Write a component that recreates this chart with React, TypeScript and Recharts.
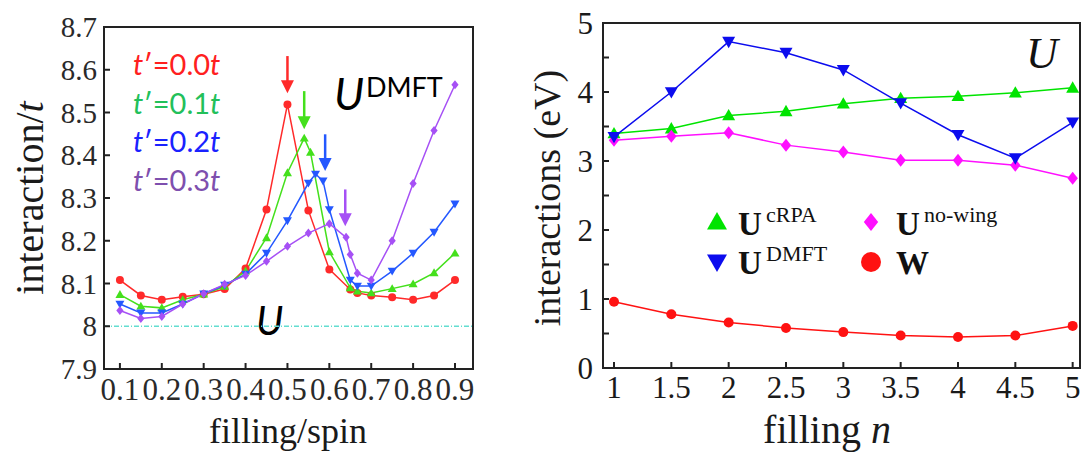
import React from 'react';
import { LineChart, Line, XAxis, YAxis, ReferenceLine, Legend } from 'recharts';

const serif = '"Liberation Serif", "Times New Roman", serif';
const sans = 'Lato, "Open Sans", sans-serif';

// left panel: U^DMFT / t against filling per spin, one curve per t'
const fillT00 = [0.1, 0.15, 0.2, 0.25, 0.3, 0.35, 0.4, 0.45, 0.5, 0.55, 0.6, 0.65, 0.667, 0.7, 0.75, 0.8, 0.85, 0.9];
const uT00 = [8.108, 8.072, 8.062, 8.069, 8.075, 8.087, 8.135, 8.273, 8.519, 8.271, 8.133, 8.086, 8.078, 8.072, 8.068, 8.062, 8.072, 8.108];

const fillT01 = [0.1, 0.15, 0.2, 0.25, 0.3, 0.35, 0.4, 0.45, 0.5, 0.54, 0.555, 0.6, 0.65, 0.667, 0.7, 0.75, 0.8, 0.85, 0.9];
const uT01 = [8.074, 8.047, 8.043, 8.062, 8.075, 8.093, 8.129, 8.207, 8.359, 8.44, 8.407, 8.174, 8.09, 8.082, 8.078, 8.088, 8.099, 8.125, 8.171];

const fillT02 = [0.1, 0.15, 0.2, 0.25, 0.3, 0.35, 0.4, 0.45, 0.5, 0.55, 0.567, 0.585, 0.6, 0.65, 0.667, 0.7, 0.75, 0.8, 0.85, 0.9];
const uT02 = [8.052, 8.031, 8.031, 8.052, 8.076, 8.096, 8.122, 8.171, 8.247, 8.335, 8.356, 8.34, 8.273, 8.108, 8.094, 8.094, 8.129, 8.171, 8.22, 8.286];

const fillT03 = [0.1, 0.15, 0.2, 0.25, 0.3, 0.35, 0.4, 0.45, 0.5, 0.55, 0.6, 0.64, 0.65, 0.667, 0.7, 0.75, 0.8, 0.85, 0.9];
const uT03 = [8.037, 8.018, 8.023, 8.052, 8.076, 8.098, 8.119, 8.152, 8.187, 8.218, 8.24, 8.208, 8.168, 8.124, 8.108, 8.2, 8.334, 8.458, 8.565];

// peak arrows: x, top of shaft, tip
const arrowFill = [0.5, 0.54, 0.59, 0.638];
const arrowTop = [8.632, 8.55, 8.449, 8.32];
const arrowTip = [8.545, 8.461, 8.363, 8.234];

const bareU = 8;
const spinDomain = [0.062, 0.943];
const interDomain = [7.9, 8.7];
const spinTicks = [0.1, 0.2, 0.3, 0.4, 0.5, 0.6, 0.7, 0.8, 0.9];
const interTicks = [7.9, 8, 8.1, 8.2, 8.3, 8.4, 8.5, 8.6, 8.7];

// right panel: interactions (eV) against filling n
const fillingN = [1, 1.5, 2, 2.5, 3, 3.5, 4, 4.5, 5];
const uCrpa = [3.4, 3.47, 3.66, 3.72, 3.83, 3.91, 3.94, 3.99, 4.06];
const uDmft = [3.35, 4.0, 4.73, 4.57, 4.32, 3.84, 3.38, 3.04, 3.56];
const uNoWing = [3.3, 3.36, 3.41, 3.23, 3.13, 3.01, 3.01, 2.94, 2.75];
const wScreened = [0.96, 0.78, 0.66, 0.58, 0.52, 0.47, 0.45, 0.47, 0.61];
const nDomain = [0.904, 5.064];
const evDomain = [0, 5];
const evTicks = [0, 0.5, 1, 1.5, 2, 2.5, 3, 3.5, 4, 4.5, 5];

const toPoints = (xs: number[], ys: number[]) => xs.map((x, i) => ({ x, y: ys[i] }));

const rightData = fillingN.map((n, i) => ({
  n,
  crpa: uCrpa[i],
  dmft: uDmft[i],
  noWing: uNoWing[i],
  w: wScreened[i],
}));

type Shape = 'circle' | 'up' | 'down' | 'diamond';

const Marker = ({ shape, cx, cy, s, color }: { shape: Shape; cx: number; cy: number; s: number; color: string }) => {
  if (shape === 'circle') return <circle cx={cx} cy={cy} r={s} fill={color} />;
  if (shape === 'up')
    return <polygon points={`${cx},${cy - s} ${cx - s},${cy + s * 0.75} ${cx + s},${cy + s * 0.75}`} fill={color} />;
  if (shape === 'down')
    return <polygon points={`${cx},${cy + s} ${cx - s},${cy - s * 0.75} ${cx + s},${cy - s * 0.75}`} fill={color} />;
  return <polygon points={`${cx},${cy - s} ${cx + s * 0.8},${cy} ${cx},${cy + s} ${cx - s * 0.8},${cy}`} fill={color} />;
};

const dotOf = (shape: Shape, color: string, s: number) => (props: any) => {
  const { cx, cy, index } = props;
  if (cx == null || cy == null) return <g key={index} />;
  return (
    <g key={index}>
      <Marker shape={shape} cx={cx} cy={cy} s={s} color={color} />
    </g>
  );
};

const Arrow = (props: any) => {
  const { x1, y1, x2, y2, stroke } = props;
  if (x1 == null) return null;
  const head = 13;
  return (
    <g>
      <line x1={x1} y1={y1} x2={x2} y2={y2 - head + 2} stroke={stroke} strokeWidth={2.5} />
      <polygon points={`${x2},${y2} ${x2 - 6.5},${y2 - head} ${x2 + 6.5},${y2 - head}`} fill={stroke} />
    </g>
  );
};

const SpinTick = (props: any) => (
  <text x={props.x} y={props.y} textAnchor="middle" fontFamily={serif} fontSize={31} fill="#2a2a2a">
    {props.payload.value.toFixed(1)}
  </text>
);

const InterTick = (props: any) => {
  const v = props.payload.value;
  return (
    <text x={props.x} y={props.y} dy="0.35em" textAnchor="end" fontFamily={serif} fontSize={29} fill="#2a2a2a">
      {Math.abs(v - 8) < 1e-9 ? '8' : v.toFixed(1)}
    </text>
  );
};

const NTick = (props: any) => (
  <text x={props.x} y={props.y} textAnchor="middle" fontFamily={serif} fontSize={31} fill="#1a1a1a">
    {String(props.payload.value)}
  </text>
);

const EvTick = (props: any) => {
  const v = props.payload.value;
  if (v % 1 !== 0) return <g />;
  return (
    <text x={props.x} y={props.y} dy="0.35em" textAnchor="end" fontFamily={serif} fontSize={31} fill="#1a1a1a">
      {String(v)}
    </text>
  );
};

// box frame edges and inward ticks
const edge = { stroke: '#222', strokeWidth: 2, axisLine: true, tickLine: true, tickSize: -6, allowDataOverflow: true };

const leftSeries = [
  { name: "t'=0.0t", fill: fillT00, u: uT00, color: '#ff2a2a', text: '#ff2020', shape: 'circle' as Shape, s: 4 },
  { name: "t'=0.1t", fill: fillT01, u: uT01, color: '#44e01c', text: '#22c05a', shape: 'up' as Shape, s: 4.5 },
  { name: "t'=0.2t", fill: fillT02, u: uT02, color: '#2458ff', text: '#1a22ff', shape: 'down' as Shape, s: 4.5 },
  { name: "t'=0.3t", fill: fillT03, u: uT03, color: '#a650f5', text: '#7e4fae', shape: 'diamond' as Shape, s: 4.5 },
];
const tPrime = ['0.0', '0.1', '0.2', '0.3'];

const LeftPanel = () => (
  <LineChart width={500} height={453} margin={{ top: 26, right: 26, left: 0, bottom: 0 }}>
    <XAxis xAxisId="b" type="number" dataKey="x" domain={spinDomain} ticks={spinTicks} {...edge}
      height={84} tickMargin={37} tick={<SpinTick />} />
    <XAxis xAxisId="t" orientation="top" type="number" dataKey="x" domain={spinDomain} ticks={spinTicks} {...edge}
      height={1} tick={false} />
    <YAxis yAxisId="l" type="number" domain={interDomain} ticks={interTicks} {...edge}
      width={104} tickMargin={13} tick={<InterTick />} />
    <YAxis yAxisId="r" orientation="right" type="number" domain={interDomain} ticks={interTicks} {...edge}
      width={1} tick={false} />
    <ReferenceLine xAxisId="b" yAxisId="l" y={bareU} stroke="#62ddd0" strokeWidth={1.5} strokeDasharray="5 2 1 2" />
    {leftSeries.map((s) => (
      <Line key={s.name} xAxisId="b" yAxisId="l" data={toPoints(s.fill, s.u)} dataKey="y" name={s.name}
        stroke={s.color} strokeWidth={1.5} dot={dotOf(s.shape, s.color, s.s)} activeDot={false} isAnimationActive={false} />
    ))}
    {arrowFill.map((x, i) => (
      <ReferenceLine key={i} xAxisId="b" yAxisId="l" segment={[{ x, y: arrowTop[i] }, { x, y: arrowTip[i] }]}
        stroke={leftSeries[i].color} shape={<Arrow />} />
    ))}
    {leftSeries.map((s, i) => (
      <text key={s.name} x={133} y={75 + i * 38.5} fontFamily={sans} fontSize={29} fill={s.text}>
        <tspan fontStyle="italic">t</tspan>′={tPrime[i]}<tspan fontStyle="italic">t</tspan>
      </text>
    ))}
    <text x={334} y={110} fontFamily={sans} fontSize={44} fontStyle="italic" fill="#000">U</text>
    <text x={366} y={97} fontFamily={sans} fontSize={27} fill="#000">DMFT</text>
    <text x={256} y={335} fontFamily={sans} fontSize={40} fontStyle="italic" fill="#000">U</text>
    <text x={288} y={443} textAnchor="middle" fontFamily={serif} fontSize={36} fill="#1a1a1a">filling/spin</text>
    <text transform="translate(43,198) rotate(-90)" textAnchor="middle" fontFamily={serif} fontSize={40} fill="#1a1a1a">
      interaction/<tspan fontStyle="italic">t</tspan>
    </text>
  </LineChart>
);

const rightColors = { crpa: '#00e400', dmft: '#0c0cee', noWing: '#ff10ff', w: '#ff1212' };

const legendItems = [
  { base: 'U', sup: 'cRPA', color: rightColors.crpa, shape: 'up' as Shape, col: 0, row: 0 },
  { base: 'U', sup: 'no-wing', color: rightColors.noWing, shape: 'diamond' as Shape, col: 1, row: 0 },
  { base: 'U', sup: 'DMFT', color: rightColors.dmft, shape: 'down' as Shape, col: 0, row: 1 },
  { base: 'W', sup: '', color: rightColors.w, shape: 'circle' as Shape, col: 1, row: 1 },
];

const RightLegend = () => (
  <svg width={310} height={90}>
    {legendItems.map((it) => {
      const mx = it.col === 0 ? 17 : 171;
      const tx = it.col === 0 ? 38 : 196;
      const my = it.row === 0 ? 22 : 62;
      const base = it.row === 0 ? 35 : 74;
      return (
        <g key={it.base + it.sup}>
          <Marker shape={it.shape} cx={mx} cy={my} s={it.shape === 'circle' ? 10 : it.shape === 'diamond' ? 9 : 10} color={it.color} />
          <text x={tx} y={base} fontFamily={serif} fontWeight="bold" fontSize={33} fill="#111">{it.base}</text>
          {it.sup && (
            <text x={tx + 28} y={base - 13} fontFamily={serif} fontSize={22} fill="#111">{it.sup}</text>
          )}
        </g>
      );
    })}
  </svg>
);

const RightPanel = () => (
  <LineChart width={583} height={453} data={rightData} margin={{ top: 22, right: 2, left: 0, bottom: 0 }}>
    <XAxis xAxisId="b" type="number" dataKey="n" domain={nDomain} ticks={fillingN} {...edge}
      height={85} tickMargin={36} tick={<NTick />} />
    <XAxis xAxisId="t" orientation="top" type="number" dataKey="n" domain={nDomain} ticks={fillingN} {...edge}
      height={1} tick={false} />
    <YAxis yAxisId="l" type="number" domain={evDomain} ticks={evTicks} {...edge}
      width={103} tickMargin={16} tick={<EvTick />} />
    <YAxis yAxisId="r" orientation="right" type="number" domain={evDomain} ticks={evTicks} {...edge}
      width={1} tick={false} />
    <Line xAxisId="b" yAxisId="l" dataKey="crpa" name="U cRPA" stroke={rightColors.crpa} strokeWidth={1.5}
      dot={dotOf('up', rightColors.crpa, 6.5)} activeDot={false} isAnimationActive={false} />
    <Line xAxisId="b" yAxisId="l" dataKey="noWing" name="U no-wing" stroke={rightColors.noWing} strokeWidth={1.5}
      dot={dotOf('diamond', rightColors.noWing, 6.5)} activeDot={false} isAnimationActive={false} />
    <Line xAxisId="b" yAxisId="l" dataKey="dmft" name="U DMFT" stroke={rightColors.dmft} strokeWidth={1.5}
      dot={dotOf('down', rightColors.dmft, 6.5)} activeDot={false} isAnimationActive={false} />
    <Line xAxisId="b" yAxisId="l" dataKey="w" name="W" stroke={rightColors.w} strokeWidth={1.5}
      dot={dotOf('circle', rightColors.w, 5)} activeDot={false} isAnimationActive={false} />
    <Legend verticalAlign="middle" align="center" layout="horizontal" content={() => <RightLegend />}
      wrapperStyle={{ position: 'absolute', left: 200, top: 200, width: 310, height: 90 }} />
    <text x={526} y={68} fontFamily={serif} fontSize={44} fontStyle="italic" fill="#111">U</text>
    <text x={327} y={443} textAnchor="middle" fontFamily={serif} fontSize={40} fill="#1a1a1a">
      filling <tspan fontStyle="italic">n</tspan>
    </text>
    <text transform="translate(60,198) rotate(-90)" textAnchor="middle" fontFamily={serif} fontSize={38} fill="#1a1a1a">
      interactions (eV)
    </text>
  </LineChart>
);

// plain box outline over each plot area
const boxStyle = (left: number, top: number, width: number, height: number): React.CSSProperties => ({
  position: 'absolute', left, top, width, height, border: '2px solid #222', boxSizing: 'border-box', pointerEvents: 'none',
});

export default function App() {
  return (
    <div style={{ position: 'absolute', left: 0, top: 0, width: 1083, height: 453, background: '#fff' }}>
      <div style={{ position: 'absolute', left: 0, top: 0 }}>
        <LeftPanel />
      </div>
      <div style={{ position: 'absolute', left: 500, top: 0 }}>
        <RightPanel />
      </div>
      <div style={boxStyle(103, 26, 371, 344)} />
      <div style={boxStyle(602, 22, 479, 347)} />
    </div>
  );
}
